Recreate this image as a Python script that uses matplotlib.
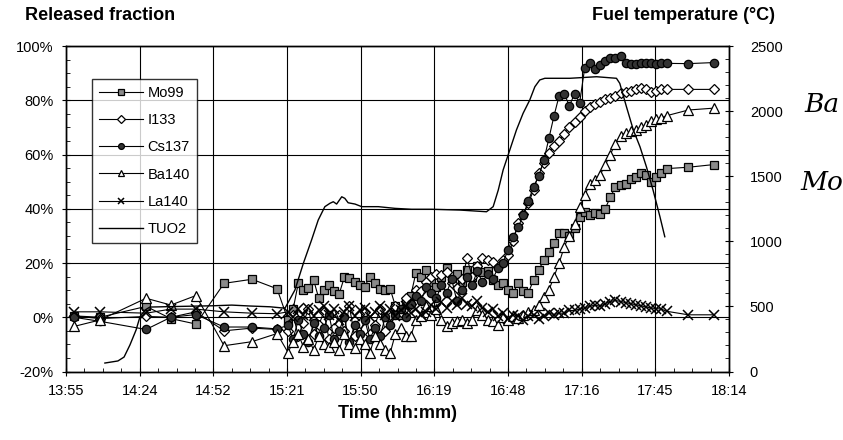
import matplotlib.pyplot as plt
from matplotlib.ticker import MultipleLocator, FixedLocator

plt.rcParams['font.family'] = ['Liberation Sans', 'DejaVu Sans']

# measurement times, minutes after midnight
t_meas = [838.3, 848.5, 866.5, 876.2, 886.0, 897.0, 907.9, 917.7,
          922, 924, 926, 928, 930, 932, 934, 936, 938, 940,
          942, 944, 946, 948, 950, 952, 954, 956, 958, 960,
          962, 964, 966, 968, 970, 972, 974, 976, 978, 980,
          982, 984, 986, 988, 990, 992, 994, 996, 998, 1000,
          1002, 1004, 1006, 1008, 1010, 1012, 1014, 1016, 1018, 1020,
          1022, 1024, 1026, 1028, 1030, 1032, 1034, 1036, 1038, 1040,
          1042, 1044, 1046, 1048, 1050, 1052, 1054, 1056, 1058, 1060,
          1062, 1064, 1066, 1068, 1070,
          1078.5, 1088.6]

# released fractions (%)
mo99 = [0.5, 0, 4, -0.5, -2.5, 12.5, 14, 10.5,
        -1, 3, 12.5, 10, 10.7, 13.8, 7, 10, 12, 9.5,
        8.6, 14.7, 14.4, 13, 12, 11.3, 15, 12.5, 10.3, 10,
        10.3, 4, 1, 6, 8, 16.4, 15, 17.4, 13, 11,
        15, 18, 14, 16, 13, 17.4, 15, 19, 16.8, 17,
        13.8, 12, 12.5, 10, 8.9, 12.8, 9.5, 9.1, 13.8, 17.4,
        21, 24, 27.4, 31, 31, 30, 33, 37, 38.8, 37.6,
        38.5, 38, 40, 44.3, 48, 48.6, 49, 51, 51.7, 53,
        52.3, 49.8, 51.7, 53, 54.8,
        55.3, 56.3]

i133 = [0.5, -0.5, 0.3, 0, 2, -5, -4, -4.5,
        -5, 1, -7, -2, 3, -6, -3, 2, -8, -4,
        1, -5, 4, -7, -2, 2, -6, -3, 3, -5,
        0, 4, 2, 7, 5, 10, 9.5, 13, 15, 16,
        15.6, 16.8, 12.5, 10.7, 14, 21.7, 15, 19, 21.7, 21,
        20.5, 18.6, 21, 23, 28, 34.6, 38, 42, 47, 53,
        57, 60.5, 63, 65, 67.6, 70, 72, 74, 76, 77.5,
        78.6, 79.2, 80.4, 81, 81.7, 82.5, 83.2, 83.5, 84, 84.7,
        84, 82.9, 83.5, 84, 84,
        84, 84]

cs137 = [0, -1.5, -4.5, 0, 1, -3.6, -3.6, -4.3,
         -3, -8, -1, -6, -9, -2, -7, -4, 1, -8,
         -5, 0, -9, -3, -6, -1, -8, -4, -7, 0,
         -3, 1, 3, 0, 5, 8, 6, 11, 9, 7,
         12, 9, 14, 6, 10, 15, 12, 17, 13, 16,
         14, 18, 20, 24.8, 29.7, 33.3, 37.6, 43, 48, 52,
         57.8, 66, 74.3, 81.7, 82.3, 78, 82.3, 79, 92, 93.9,
         91.4, 93, 94.5, 95.7, 95.5, 96.3, 93.9, 93.3, 93.5, 93.9,
         93.6, 93.9, 93.5, 93.8, 93.6,
         93.5, 93.9]

ba140 = [-3.4, -1, 7, 4.5, 8, -10.5, -9, -6,
         -13, -9, -6, -11, -8, -12, -7, -10, -11, -9,
         -12, -6, -10, -11.5, -8, -10, -13, -7, -10, -12,
         -13, -6, -4, -7, -7, -1, 0.5, 4, 1, 3,
         -1, -3.4, -2, -1.5, -1, -2, -1, 2.8, 1, -1,
         -1.5, -2.8, 0, -1, 0.5, -0.3, 1, 2, 2.8, 4.6,
         7.6, 10, 15, 20, 26, 30, 34.5, 40.6, 45, 49,
         50.5, 52.5, 56, 60, 64, 67, 68, 68.5, 69, 70,
         71, 72.5, 73, 73.5, 74.3,
         76.4, 77.1]

la140 = [2, 2, 1.5, 3, 3, 2, 1.5, 1.3,
         2, 0, 3, 1, 3.5, 0.5, 2.5, 4, 1, 3,
         -1, 2, 4, 0.5, 2.5, 3.5, 0, 2, 4, 1,
         3, 0.5, 2.5, 4, 1.5, 3, 1, 2, 4.5, 3,
         5.5, 3.5, 6, 4.5, 7, 5, 4, 6, 3.5, 2,
         3, 0.5, 1.5, -0.5, 1, 0.5, -1, 0.5, 1, -0.5,
         0.5, 1.5, 1, 1.5, 1.5, 2.5, 2.5, 3, 3.5, 4,
         4.5, 4, 5, 5.8, 6.2, 5.8, 5.4, 5, 4.6, 4.2,
         3.8, 3.4, 3.2, 3.0, 2.2,
         0.9, 0.9]

# fuel temperature (degC)
t_tuo2 = [850.4, 855.5, 857.9, 860.2, 862.6, 864.1, 866.1, 868.0, 880.0, 893.0,
          900.0, 907.1, 915.0, 920.8, 924.7, 928.0, 931.2, 933.8, 936.4, 938.4,
          939.7, 941.0, 943.0, 944.2, 945.5, 948.2, 950.8, 957.3, 963.8, 970.3,
          978.1, 989.2, 999.6, 1002.2, 1004.2, 1006.1, 1008.7, 1011.3, 1013.9, 1016.5,
          1018.5, 1020.4, 1022.4, 1032.2, 1042.6, 1050.4, 1051.7, 1054.3, 1057.0, 1059.6,
          1062.1, 1064.7, 1067.4, 1069.3]
tuo2 = [65, 81, 111, 204, 319, 419, 472, 495, 500, 505,
        510, 503, 497, 486, 626, 831, 1010, 1163, 1266, 1292,
        1304, 1286, 1342, 1330, 1296, 1286, 1266, 1266, 1253, 1246,
        1246, 1240, 1227, 1266, 1394, 1548, 1701, 1855, 1983, 2085,
        2187, 2239, 2252, 2252, 2264, 2252, 2213, 2034, 1855, 1726,
        1573, 1394, 1189, 1035]

x_start = 835.2   # 13:55 (0.58 day)
x_step = 28.8     # 0.02 day

fig = plt.figure(figsize=(8.43, 4.40), dpi=100)
ax = fig.add_axes([66 / 843, 1 - 371.5 / 440, 663 / 843, 325.5 / 440])
ax2 = ax.twinx()

lw = 0.8
ax.plot(t_meas, mo99, color='black', lw=lw, marker='s', ms=6,
        mfc='#8a8a8a', mec='black', mew=0.9, label='Mo99')
ax.plot(t_meas, i133, color='black', lw=lw, marker='D', ms=5.5,
        mfc='white', mec='black', mew=0.9, label='I133')
ax.plot(t_meas, cs137, color='black', lw=lw, marker='o', ms=6,
        mfc='#333333', mec='black', mew=0.9, label='Cs137')
ax.plot(t_meas, ba140, color='black', lw=lw, marker='^', ms=6.5,
        mfc='white', mec='black', mew=0.9, label='Ba140')
ax.plot(t_meas, la140, color='black', lw=lw, marker='x', ms=6.5,
        mec='black', mew=1.1, label='La140')
l_t, = ax2.plot(t_tuo2, tuo2, color='black', lw=1.0, label='TUO2')

ax.set_xlim(x_start, x_start + 9 * x_step)
ax.set_ylim(-20, 100)
ax2.set_ylim(0, 2500)

xt = [x_start + i * x_step for i in range(10)]
ax.xaxis.set_major_locator(FixedLocator(xt))
ax.set_xticklabels(['%d:%02d' % (int(v // 60), int(v % 60)) for v in xt])
ax.xaxis.set_minor_locator(FixedLocator([x_start + i * x_step / 4 for i in range(37)]))
ax.set_yticks(range(-20, 101, 20))
ax.set_yticklabels(['%d%%' % v for v in range(-20, 101, 20)])
ax.yaxis.set_minor_locator(MultipleLocator(5))
ax2.yaxis.set_major_locator(MultipleLocator(500))
ax2.yaxis.set_minor_locator(MultipleLocator(100))

ax.grid(True, which='major', color='black', lw=0.8)
for a in (ax, ax2):
    for s in a.spines.values():
        s.set_linewidth(1.0)
ax.tick_params(which='major', direction='inout', length=6, width=0.8,
               labelsize=10.5, pad=6)
ax.tick_params(which='minor', direction='in', length=3, width=0.6)
ax2.tick_params(which='major', direction='inout', length=6, width=0.8,
                labelsize=10.5, pad=12)
ax2.tick_params(which='minor', direction='in', length=3, width=0.6)

h, lab = ax.get_legend_handles_labels()
leg = ax.legend(h + [l_t], lab + ['TUO2'], loc='upper left',
                bbox_to_anchor=(0.039, 0.899), borderaxespad=0,
                fontsize=10.5, frameon=True, fancybox=False,
                edgecolor='black', handlelength=3.0, labelspacing=0.9,
                borderpad=0.5, handletextpad=0.3, markerscale=0.7)
leg.get_frame().set_linewidth(1.0)
leg.set_zorder(5)

fig.text(25 / 843, 1 - 15 / 440, 'Released fraction', fontsize=13,
         fontweight='bold', ha='left', va='center')
fig.text(683 / 843, 1 - 15 / 440, 'Fuel temperature (°C)', fontsize=13,
         fontweight='bold', ha='center', va='center')
fig.text(398 / 843, 1 - 413 / 440, 'Time (hh:mm)', fontsize=13,
         fontweight='bold', ha='center', va='center')

# handwritten notes on the original
fig.text(804 / 843, 1 - 105 / 440, 'Ba', fontsize=19, family='DejaVu Serif',
         style='italic', ha='left', va='center')
fig.text(800 / 843, 1 - 183 / 440, 'Mo', fontsize=19, family='DejaVu Serif',
         style='italic', ha='left', va='center')

fig.savefig('out.png', dpi=100)
